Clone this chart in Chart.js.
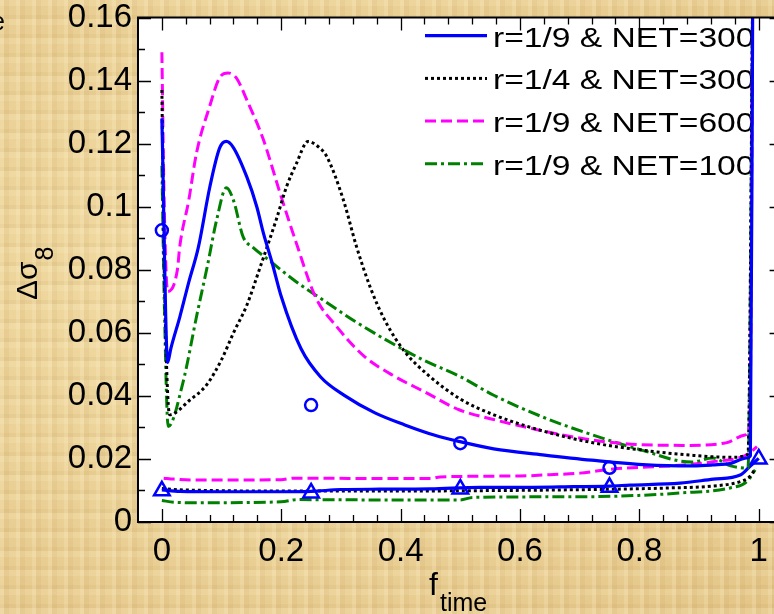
<!DOCTYPE html>
<html>
<head>
<meta charset="utf-8">
<title>Δσ8 vs f_time</title>
<script src="https://cdn.jsdelivr.net/npm/chart.js@4.4.0/dist/chart.umd.min.js"></script>
<style>
    html, body { margin: 0; padding: 0; width: 774px; height: 614px; overflow: hidden; }
    body {
        background-color: #e7cb90;
        background-image:
            repeating-linear-gradient(90deg, rgba(255,244,205,0.20) 0px, rgba(255,244,205,0.20) 4px, rgba(176,136,66,0.09) 4px, rgba(176,136,66,0.09) 9px, rgba(255,255,255,0) 9px, rgba(255,255,255,0) 16px),
            repeating-linear-gradient(0deg, rgba(255,244,205,0.16) 0px, rgba(255,244,205,0.16) 6px, rgba(168,128,60,0.08) 6px, rgba(168,128,60,0.08) 10px, rgba(255,255,255,0) 10px, rgba(255,255,255,0) 19px),
            radial-gradient(ellipse at 35% 45%, rgba(247,228,175,0.7), rgba(222,188,122,0.35));
    }
    #wrap { position: absolute; left: 0; top: 0; width: 800px; height: 614px; }
</style>
</head>
<body>
<div id="wrap"><canvas id="sigmaChart" width="800" height="614"></canvas></div>
<script>
/* ======================================================
    DATA
====================================================== */
const xTicks = [0, 0.2, 0.4, 0.6, 0.8, 1];
const yTicks = [0, 0.02, 0.04, 0.06, 0.08, 0.1, 0.12, 0.14, 0.16];

const seriesNames = ['r=1/9 & NET=300', 'r=1/4 & NET=300', 'r=1/9 & NET=600', 'r=1/9 & NET=100'];

// upper (peaked) curves
const blueUpX  = [0, 0.0097, 0.015, 0.03, 0.045, 0.061, 0.0805, 0.097, 0.108, 0.119, 0.142, 0.159, 0.17, 0.185, 0.2, 0.233, 0.266, 0.307, 0.357, 0.407, 0.456, 0.499, 0.556, 0.638, 0.72, 0.813, 0.89, 0.923, 0.953, 0.98, 0.986, 0.99];
const blueUpY  = [0.128, 0.0506, 0.055, 0.065, 0.076, 0.087, 0.1064, 0.1187, 0.1207, 0.119, 0.1096, 0.1, 0.0917, 0.082, 0.0715, 0.055, 0.046, 0.040, 0.0346, 0.0308, 0.0276, 0.0255, 0.0232, 0.0213, 0.0196, 0.0181, 0.0178, 0.0181, 0.0186, 0.0203, 0.021, 0.17];

const blackUpX = [0, 0.004, 0.013, 0.047, 0.075, 0.1, 0.12, 0.142, 0.165, 0.192, 0.209, 0.225, 0.245, 0.262, 0.276, 0.304, 0.326, 0.35, 0.374, 0.407, 0.448, 0.5, 0.556, 0.638, 0.72, 0.804, 0.886, 0.953, 0.982, 0.99];
const blackUpY = [0.137, 0.08, 0.034, 0.0387, 0.0435, 0.0515, 0.06, 0.0686, 0.081, 0.0961, 0.1064, 0.1135, 0.1207, 0.119, 0.116, 0.1022, 0.0874, 0.074, 0.0638, 0.054, 0.0463, 0.039, 0.034, 0.0289, 0.0252, 0.0228, 0.0212, 0.0205, 0.0215, 0.17];

const pinkUpX  = [0, 0.004, 0.0097, 0.026, 0.03, 0.045, 0.058, 0.08, 0.097, 0.111, 0.125, 0.142, 0.17, 0.198, 0.225, 0.258, 0.291, 0.34, 0.39, 0.44, 0.498, 0.556, 0.638, 0.721, 0.804, 0.886, 0.945, 0.977, 0.985, 0.99];
const pinkUpY  = [0.149, 0.1, 0.0731, 0.080, 0.0874, 0.102, 0.117, 0.1318, 0.141, 0.1424, 0.1408, 0.134, 0.1213, 0.1043, 0.0886, 0.0711, 0.0624, 0.0524, 0.0462, 0.0413, 0.0356, 0.0325, 0.0289, 0.026, 0.0245, 0.0243, 0.0251, 0.0276, 0.0313, 0.17];

const greenUpX = [0, 0.004, 0.0106, 0.035, 0.059, 0.076, 0.092, 0.108, 0.12, 0.136, 0.153, 0.175, 0.225, 0.274, 0.324, 0.39, 0.44, 0.498, 0.556, 0.638, 0.72, 0.804, 0.887, 0.923, 0.953, 0.982, 0.99];
const greenUpY = [0.113, 0.07, 0.0303, 0.044, 0.066, 0.081, 0.096, 0.106, 0.102, 0.0905, 0.087, 0.0837, 0.0762, 0.0699, 0.0636, 0.0562, 0.0512, 0.0463, 0.0402, 0.0333, 0.0277, 0.0228, 0.019, 0.0203, 0.0178, 0.0171, 0.17];

// lower (flat) curves
const blueLoX  = [0, 0.03, 0.1, 0.2, 0.25, 0.3, 0.365, 0.45, 0.533, 0.62, 0.689, 0.75, 0.784, 0.868, 0.924, 0.969, 0.985, 1];
const blueLoY  = [0.0102, 0.0097, 0.0096, 0.0096, 0.0097, 0.0103, 0.0104, 0.0105, 0.011, 0.011, 0.0112, 0.0114, 0.0117, 0.0123, 0.0136, 0.0149, 0.0176, 0.0202];

const blackLoX = [0, 0.03, 0.25, 0.5, 0.756, 0.85, 0.923, 0.969, 0.985, 0.995];
const blackLoY = [0.0106, 0.0102, 0.0098, 0.0099, 0.0104, 0.0108, 0.0114, 0.0128, 0.0144, 0.0171];

const pinkLoX  = [0.003, 0.02, 0.05, 0.2, 0.22, 0.365, 0.45, 0.466, 0.6, 0.65, 0.7, 0.756, 0.868, 0.923, 0.98, 0.997];
const pinkLoY  = [0.0139, 0.0136, 0.0133, 0.0134, 0.0139, 0.0138, 0.0138, 0.0143, 0.0146, 0.015, 0.0155, 0.0168, 0.018, 0.0191, 0.0213, 0.0239];

const greenLoX = [0, 0.02, 0.058, 0.2, 0.226, 0.365, 0.5, 0.521, 0.7, 0.78, 0.868, 0.952, 0.98, 0.994];
const greenLoY = [0.0068, 0.0063, 0.0061, 0.0064, 0.0071, 0.007, 0.007, 0.0078, 0.008, 0.0083, 0.0092, 0.0108, 0.0128, 0.0165];

// blue markers
const circleX   = [0, 0.25, 0.5, 0.75];
const circleY   = [0.0925, 0.0371, 0.025, 0.0172];
const triangleX = [0, 0.25, 0.5, 0.75, 1];
const triangleY = [0.0099, 0.0092, 0.0105, 0.011, 0.020];

/* ======================================================
    STYLE
====================================================== */
const FONT = '"Liberation Sans", Arial, sans-serif';
const BLUE = '#0000ff', BLACK = '#000000', PINK = '#ff00ff', GREEN = '#008000';
const DOT = [3, 3], DASH = [11, 5], DASHDOT = [12, 4, 3, 4];

const pts = (xs, ys) => xs.map((x, i) => ({ x: x, y: ys[i] }));

function curve(label, xs, ys, color, width, dash) {
    return {
        label: label,
        data: pts(xs, ys),
        showLine: true,
        borderColor: color,
        backgroundColor: color,
        borderWidth: width,
        borderDash: dash,
        borderCapStyle: 'butt',
        pointRadius: 0,
        fill: false,
        clip: 0,
        cubicInterpolationMode: 'monotone'
    };
}

function markers(xs, ys, style, radius) {
    return {
        label: style,
        data: pts(xs, ys),
        showLine: false,
        pointStyle: style,
        pointRadius: radius,
        pointBorderWidth: 2.5,
        pointBorderColor: BLUE,
        pointBackgroundColor: 'rgba(0,0,0,0)',
        clip: false,
        order: -1
    };
}

/* ======================================================
    FRAME / LEGEND / TITLES PLUGIN
====================================================== */
const framePlugin = {
    id: 'frame',
    beforeDraw(chart) {
        const { ctx, chartArea: a } = chart;
        ctx.save();
        ctx.fillStyle = '#ffffff';
        ctx.fillRect(a.left, a.top, a.right - a.left, a.bottom - a.top);
        ctx.restore();
    },
    beforeDatasetsDraw(chart) {
        // legend, drawn under the curves like the original
        const ctx = chart.ctx;
        const sets = chart.data.datasets.slice(0, 4);
        const baselines = [46.7, 89.4, 132.1, 174.8];
        ctx.save();
        sets.forEach((ds, i) => {
            const yLine = baselines[i] - 11;
            ctx.beginPath();
            ctx.setLineDash(ds.borderDash || []);
            ctx.lineWidth = ds.borderWidth;
            ctx.strokeStyle = ds.borderColor;
            ctx.lineCap = 'butt';
            ctx.moveTo(425, yLine);
            ctx.lineTo(487, yLine);
            ctx.stroke();

            ctx.save();
            ctx.translate(493, baselines[i]);
            ctx.scale(1.2, 1);
            ctx.font = '28px ' + FONT;
            ctx.fillStyle = '#000';
            ctx.textBaseline = 'alphabetic';
            ctx.textAlign = 'left';
            ctx.fillText(seriesNames[i], 0, 0);
            ctx.restore();
        });
        ctx.restore();
    },
    afterDraw(chart) {
        const { ctx, chartArea: a, scales } = chart;
        const xs = scales.x, ys = scales.y;
        ctx.save();
        ctx.setLineDash([]);

        // inward ticks on all four sides
        ctx.strokeStyle = '#000';
        ctx.lineWidth = 1.3;
        ctx.beginPath();
        for (let v = 0; v <= 1.0001; v += 0.04) {
            const major = xTicks.some(t => Math.abs(t - v) < 1e-6);
            const len = major ? 13 : 7;
            const px = Math.round(xs.getPixelForValue(v)) + 0.5;
            ctx.moveTo(px, a.bottom); ctx.lineTo(px, a.bottom - len);
            ctx.moveTo(px, a.top); ctx.lineTo(px, a.top + len);
        }
        for (let v = 0; v <= 0.1601; v += 0.01) {
            const major = yTicks.some(t => Math.abs(t - v) < 1e-6);
            const len = major ? 13 : 7;
            const py = Math.round(ys.getPixelForValue(v)) + 0.5;
            ctx.moveTo(a.left, py); ctx.lineTo(a.left + len, py);
            ctx.moveTo(a.right, py); ctx.lineTo(a.right - len, py);
        }
        ctx.stroke();

        // box
        ctx.lineWidth = 2;
        ctx.strokeRect(a.left, a.top, a.right - a.left, a.bottom - a.top);

        // axis titles
        ctx.fillStyle = '#000';
        ctx.textAlign = 'left';
        ctx.textBaseline = 'alphabetic';

        ctx.font = '32px ' + FONT;
        ctx.fillText('f', 429, 595);
        ctx.font = '25px ' + FONT;
        ctx.fillText('time', 440, 611);

        ctx.save();
        ctx.translate(37, 300);
        ctx.rotate(-Math.PI / 2);
        ctx.font = '30px ' + FONT;
        ctx.fillText('Δσ', 0, 0);
        const w = ctx.measureText('Δσ').width;
        ctx.font = '25px ' + FONT;
        ctx.fillText('8', w + 1, 16);
        ctx.restore();

        // clipped text at the top-left edge of the figure
        ctx.font = '25px ' + FONT;
        ctx.fillText('e', -9, 30);

        ctx.restore();
    }
};

/* ======================================================
    CHART
====================================================== */
const tickFont = { family: FONT, size: 33 };

new Chart(document.getElementById('sigmaChart').getContext('2d'), {
    type: 'scatter',
    data: {
        datasets: [
            curve(seriesNames[0], blueUpX, blueUpY, BLUE, 3.2, []),
            curve(seriesNames[1], blackUpX, blackUpY, BLACK, 3, DOT),
            curve(seriesNames[2], pinkUpX, pinkUpY, PINK, 3, DASH),
            curve(seriesNames[3], greenUpX, greenUpY, GREEN, 3, DASHDOT),
            curve(seriesNames[0] + ' (low)', blueLoX, blueLoY, BLUE, 3.2, []),
            curve(seriesNames[1] + ' (low)', blackLoX, blackLoY, BLACK, 3, DOT),
            curve(seriesNames[2] + ' (low)', pinkLoX, pinkLoY, PINK, 3, DASH),
            curve(seriesNames[3] + ' (low)', greenLoX, greenLoY, GREEN, 3, DASHDOT),
            markers(circleX, circleY, 'circle', 6),
            markers(triangleX, triangleY, 'triangle', 9)
        ]
    },
    options: {
        responsive: false,
        animation: false,
        devicePixelRatio: 1,
        events: [],
        layout: { padding: { left: 0, top: 17.5, right: 17.4, bottom: 0 } },
        plugins: { legend: { display: false }, tooltip: { enabled: false } },
        scales: {
            x: {
                type: 'linear',
                min: -0.04,
                max: 1.04,
                grid: { display: false, drawTicks: false },
                border: { display: false },
                ticks: { font: tickFont, color: '#000', padding: 10, autoSkip: false, maxRotation: 0, callback: v => String(v) },
                afterBuildTicks: s => { s.ticks = xTicks.map(v => ({ value: v })); },
                afterFit: s => { s.height = 92; s.paddingLeft = 0; s.paddingRight = 0; }
            },
            y: {
                type: 'linear',
                min: 0,
                max: 0.16,
                grid: { display: false, drawTicks: false },
                border: { display: false },
                ticks: { font: tickFont, color: '#000', padding: 6, autoSkip: false, callback: v => String(v) },
                afterBuildTicks: s => { s.ticks = yTicks.map(v => ({ value: v })); },
                afterFit: s => { s.width = 138; s.paddingTop = 0; s.paddingBottom = 0; }
            }
        }
    },
    plugins: [framePlugin]
});
</script>
</body>
</html>
